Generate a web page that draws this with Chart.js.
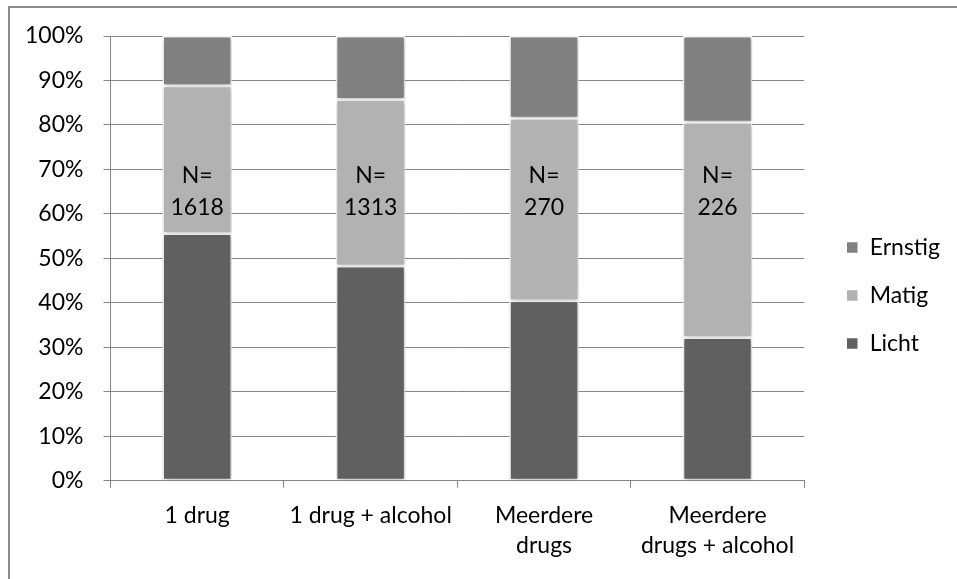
<!DOCTYPE html>
<html>
<head>
<meta charset="utf-8">
<script src="https://cdn.jsdelivr.net/npm/chart.js@4.4.1/dist/chart.umd.min.js"></script>
<style>
  html, body { margin: 0; padding: 0; background: #ffffff; }
  #wrap { width: 957px; height: 579px; position: relative; }
</style>
</head>
<body>
<div id="wrap"><canvas id="chart" width="957" height="579"></canvas></div>
<script>
// Categories (x axis), multi-line where the label wraps
const categories = [
  '1 drug',
  '1 drug + alcohol',
  ['Meerdere', 'drugs'],
  ['Meerdere', 'drugs + alcohol']
];

// Share per severity level, in percent (stacked to 100%)
const licht   = [55.6, 48.3, 40.5, 32.2];
const matig   = [33.2, 37.4, 41.0, 48.4];
const ernstig = [11.2, 14.3, 18.5, 19.4];

// Group sizes printed on each bar
const groupSizes = [1618, 1313, 270, 226];
const sizeLabelLevel = 65; // percent height where the N label is centred

// Y axis tick values
const yTicks = [0, 10, 20, 30, 40, 50, 60, 70, 80, 90, 100];

const FONT = 'Lato, "Liberation Sans", sans-serif';
const FONT_SIZE = 23;
const GRID = '#868686';

// Outer frame and white background
const framePlugin = {
  id: 'frame',
  beforeDraw(chart) {
    const ctx = chart.ctx;
    ctx.save();
    ctx.fillStyle = '#ffffff';
    ctx.fillRect(0, 0, chart.width, chart.height);
    ctx.strokeStyle = '#8c8c8c';
    ctx.lineWidth = 2;
    ctx.strokeRect(9, 7, chart.width + 20, chart.height + 20);
    ctx.restore();
  }
};

// Soft shadow round the bar segments
const shadowPlugin = {
  id: 'barShadow',
  beforeDatasetsDraw(chart) {
    const ctx = chart.ctx;
    ctx.save();
    ctx.shadowColor = 'rgba(0,0,0,0.3)';
    ctx.shadowBlur = 6;
    ctx.shadowOffsetX = 1;
    ctx.shadowOffsetY = 1;
  },
  afterDatasetsDraw(chart) {
    chart.ctx.restore();
  }
};

// Nudge the legend block clear of the plot and up a little
const legendOffsetPlugin = {
  id: 'legendOffset',
  afterLayout(chart) {
    const lg = chart.legend;
    if (lg) {
      lg.left += 17; lg.right += 17;
      lg.top -= 9; lg.bottom -= 9;
    }
  }
};

// "N=" group size text inside each bar
const sizeLabelPlugin = {
  id: 'sizeLabels',
  afterDatasetsDraw(chart) {
    const ctx = chart.ctx;
    const xs = chart.scales.x, ys = chart.scales.y;
    const yc = ys.getPixelForValue(sizeLabelLevel);
    ctx.save();
    ctx.fillStyle = '#000000';
    ctx.font = FONT_SIZE + 'px ' + FONT;
    ctx.textAlign = 'center';
    ctx.textBaseline = 'middle';
    groupSizes.forEach((n, i) => {
      const x = xs.getPixelForValue(i);
      ctx.fillText('N=', x, yc - 16);
      ctx.fillText(String(n), x, yc + 16);
    });
    ctx.restore();
  }
};

const barCommon = {
  borderColor: '#ffffff',
  borderWidth: 1.5,
  borderSkipped: false,
  barPercentage: 0.4,
  categoryPercentage: 1.0
};

new Chart(document.getElementById('chart'), {
  type: 'bar',
  data: {
    labels: categories,
    datasets: [
      Object.assign({ label: 'Licht',   data: licht,   backgroundColor: '#606060' }, barCommon),
      Object.assign({ label: 'Matig',   data: matig,   backgroundColor: '#b2b2b2' }, barCommon),
      Object.assign({ label: 'Ernstig', data: ernstig, backgroundColor: '#808080' }, barCommon)
    ]
  },
  options: {
    responsive: false,
    animation: false,
    devicePixelRatio: 1,
    layout: { padding: { left: 5, top: 36, right: 24, bottom: 6 } },
    plugins: {
      tooltip: { enabled: false },
      legend: {
        position: 'right',
        reverse: true,
        labels: {
          boxWidth: 12,
          boxHeight: 12,
          padding: 25,
          color: '#000000',
          font: { family: FONT, size: FONT_SIZE }
        }
      }
    },
    scales: {
      x: {
        stacked: true,
        grid: {
          display: true,
          drawOnChartArea: false,
          drawTicks: true,
          tickLength: 7,
          color: GRID,
          offset: true
        },
        border: { display: true, color: GRID, width: 1 },
        ticks: {
          color: '#000000',
          padding: 12,
          font: { family: FONT, size: FONT_SIZE, lineHeight: 1.33 }
        }
      },
      y: {
        stacked: true,
        min: 0,
        max: 100,
        afterBuildTicks(scale) {
          scale.ticks = yTicks.map(v => ({ value: v }));
        },
        grid: {
          color: GRID,
          lineWidth: 1,
          drawTicks: true,
          tickLength: 7
        },
        border: { display: true, color: GRID, width: 1 },
        ticks: {
          color: '#000000',
          padding: 20,
          font: { family: FONT, size: FONT_SIZE },
          callback: v => v + '%'
        }
      }
    }
  },
  plugins: [framePlugin, shadowPlugin, legendOffsetPlugin, sizeLabelPlugin]
});
</script>
</body>
</html>
